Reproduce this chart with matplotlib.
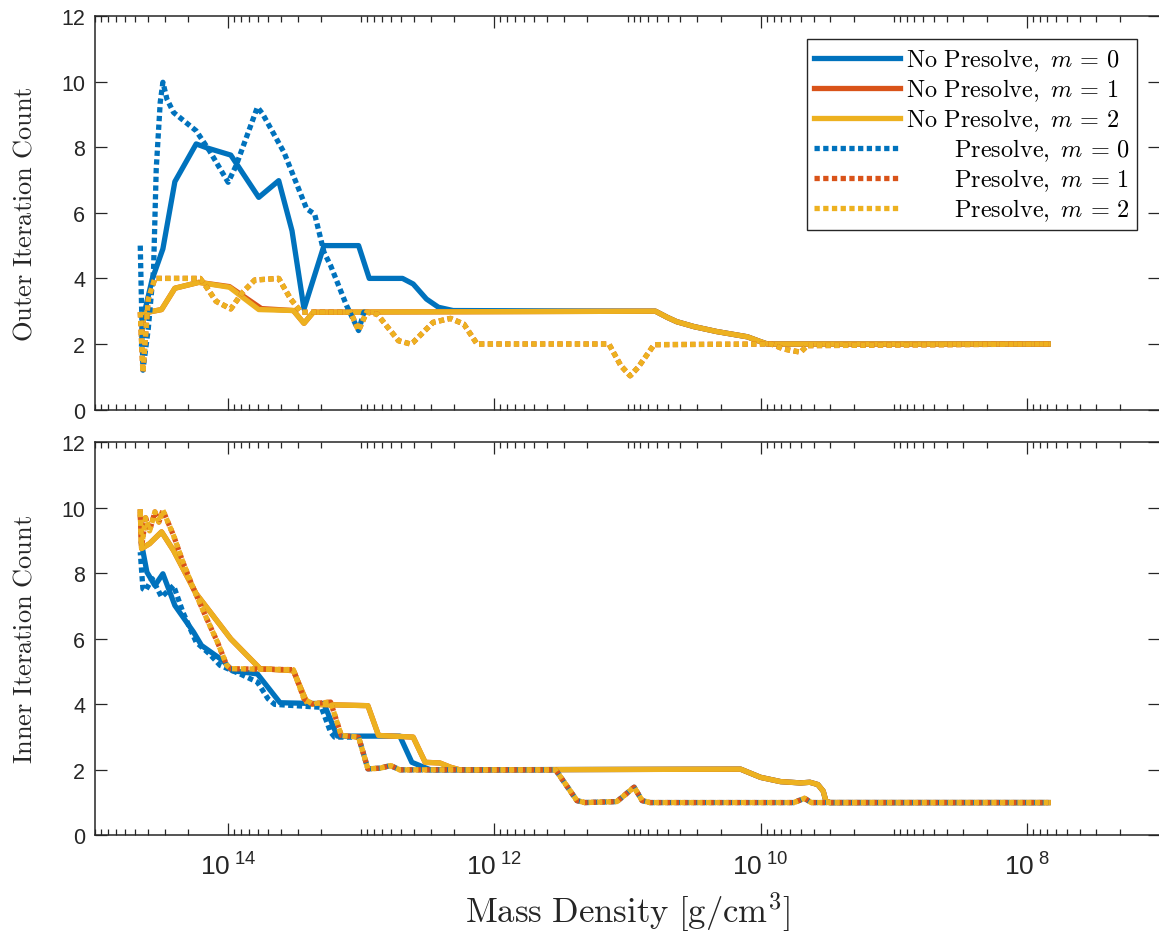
import numpy as np
import matplotlib
matplotlib.use("Agg")
import matplotlib.pyplot as plt
from matplotlib.ticker import FixedLocator, FuncFormatter, NullFormatter

plt.rcParams['font.family'] = 'Liberation Sans'
plt.rcParams['mathtext.fontset'] = 'custom'
plt.rcParams['mathtext.rm'] = 'Liberation Sans'
plt.rcParams['mathtext.it'] = 'Liberation Sans:italic'
plt.rcParams['mathtext.bf'] = 'Liberation Sans:bold'

# colours (matlab default order)
c_blue = '#0072BD'
c_orange = '#D95319'
c_yellow = '#EDB120'
c_ax = '#262626'

# ---- data: log10(mass density) and iteration counts ----
# outer iterations
outer_np0_logrho = [14.65, 14.64, 14.57, 14.49, 14.40, 14.24, 14.16, 13.98, 13.77, 13.62,
                    13.52, 13.43, 13.28, 13.02, 12.94, 12.69, 12.61, 12.51, 12.42, 12.31,
                    10.79, 10.70, 10.63, 10.50, 10.33, 10.10, 10.00, 9.95, 7.84]
outer_np0 = [2.0, 2.76, 3.98, 4.90, 6.95, 8.10, 7.98, 7.76, 6.47, 6.98,
             5.45, 3.07, 5.0, 5.0, 4.0, 4.0, 3.83, 3.37, 3.12, 3.02,
             3.0, 2.81, 2.68, 2.53, 2.38, 2.22, 2.07, 2.0, 2.0]

outer_np1_logrho = [14.65, 14.63, 14.60, 14.50, 14.40, 14.22, 13.99, 13.75, 13.51, 13.43,
                    13.36, 10.79, 10.70, 10.63, 10.50, 10.33, 10.10, 10.00, 9.95, 7.84]
outer_np1 = [2.3, 2.95, 2.97, 3.05, 3.70, 3.88, 3.75, 3.08, 3.02, 2.63,
             2.97, 3.0, 2.81, 2.68, 2.53, 2.38, 2.22, 2.07, 2.0, 2.0]

outer_np2_logrho = [14.65, 14.63, 14.60, 14.50, 14.40, 14.22, 13.99, 13.77, 13.51, 13.43,
                    13.36, 10.79, 10.70, 10.63, 10.50, 10.33, 10.10, 10.00, 9.95, 7.84]
outer_np2 = [2.3, 2.95, 2.97, 3.05, 3.70, 3.88, 3.73, 3.05, 3.02, 2.63,
             2.97, 3.0, 2.81, 2.68, 2.53, 2.38, 2.22, 2.07, 2.0, 2.0]

# presolve m=0 joins the m=1/m=2 curves (and stays hidden under them) after 1e13
outer_p0_logrho = [14.66, 14.64, 14.60, 14.56, 14.54, 14.51, 14.49, 14.46, 14.41, 14.24,
                   14.14, 14.00, 13.94, 13.78, 13.74, 13.58, 13.41, 13.35, 13.28, 13.23,
                   13.11, 13.02, 12.98, 12.96]
outer_p0 = [5.0, 1.2, 2.46, 4.29, 7.34, 9.37, 9.98, 9.47, 9.06, 8.5,
            7.89, 6.93, 7.44, 9.22, 9.01, 7.84, 6.12, 5.96, 4.80, 4.39,
            3.17, 2.41, 2.97, 2.97]

outer_p2_logrho = [14.66, 14.64, 14.60, 14.55, 14.21, 14.17, 14.09, 13.98, 13.89, 13.80,
                   13.62, 13.53, 13.45, 13.08, 13.02, 12.96, 12.88, 12.72, 12.63, 12.61,
                   12.46, 12.33, 12.23, 12.13, 11.14, 11.05, 10.98, 10.92, 10.80, 9.92,
                   9.83, 9.70, 9.65, 7.84]
outer_p2 = [2.97, 1.14, 3.37, 4.0, 4.0, 3.78, 3.3, 3.07, 3.58, 3.95,
            4.0, 3.37, 2.97, 2.97, 2.41, 2.97, 2.91, 2.1, 2.0, 2.05,
            2.66, 2.78, 2.61, 2.0, 2.0, 1.34, 1.03, 1.29, 1.98, 2.0,
            1.85, 1.75, 1.95, 2.0]
outer_p1_logrho = outer_p2_logrho
outer_p1 = outer_p2

# inner iterations
inner_np0_logrho = [14.65, 14.61, 14.55, 14.49, 14.40, 14.26, 14.20, 14.04, 13.97, 13.78,
                    13.61, 13.28, 13.18, 12.71, 12.62, 12.56, 12.48, 10.15, 10.00, 9.85,
                    9.70, 9.63, 9.57, 9.53, 9.51, 9.48, 7.84]
inner_np0 = [8.9, 8.04, 7.63, 7.99, 7.02, 6.21, 5.80, 5.34, 5.03, 4.93,
             4.05, 4.02, 3.03, 3.03, 2.23, 2.13, 2.0, 2.02, 1.77, 1.64,
             1.60, 1.62, 1.55, 1.35, 1.05, 1.0, 1.0]

inner_np2_logrho = [14.66, 14.65, 14.59, 14.50, 14.41, 14.24, 13.98, 13.76, 13.51, 13.41,
                    13.36, 12.95, 12.87, 12.61, 12.52, 12.41, 12.33, 12.26, 10.15, 10.00,
                    9.85, 9.70, 9.63, 9.57, 9.53, 9.51, 9.48, 7.84]
inner_np2 = [9.88, 8.76, 8.91, 9.27, 8.70, 7.38, 6.0, 5.09, 5.03, 4.07,
             4.0, 3.96, 3.05, 3.0, 2.23, 2.21, 2.08, 2.0, 2.02, 1.77,
             1.64, 1.60, 1.62, 1.55, 1.35, 1.05, 1.0, 1.0]
inner_np1_logrho = inner_np2_logrho
inner_np1 = inner_np2

inner_p0_logrho = [14.66, 14.64, 14.62, 14.57, 14.50, 14.41, 14.34, 14.24, 14.14, 14.06,
                   13.91, 13.78, 13.70, 13.65, 13.30, 13.23, 13.20, 13.02, 12.95, 12.86,
                   12.78, 12.71, 11.54, 11.38, 11.32, 11.08, 10.95, 10.89, 10.83, 9.75,
                   9.67, 9.62, 7.84]
inner_p0 = [8.65, 7.53, 7.48, 7.84, 7.28, 7.63, 6.82, 5.90, 5.54, 5.19,
            4.93, 4.68, 4.17, 4.0, 3.91, 3.15, 3.0, 3.0, 2.03, 2.05,
            2.13, 2.0, 2.0, 1.06, 1.0, 1.03, 1.47, 1.06, 1.0, 1.0,
            1.13, 1.0, 1.0]

inner_p2_logrho = [14.66, 14.65, 14.62, 14.59, 14.55, 14.52, 14.49, 14.41, 14.34, 14.26,
                   14.16, 14.08, 14.01, 13.98, 13.51, 13.43, 13.37, 13.23, 13.15, 13.02,
                   12.95, 12.86, 12.78, 12.71, 11.54, 11.38, 11.32, 11.08, 10.95, 10.89,
                   10.83, 9.75, 9.67, 9.62, 7.84]
inner_p2 = [9.88, 8.8, 9.7, 9.3, 9.88, 9.57, 9.93, 9.16, 8.35, 7.53,
            6.61, 5.90, 5.19, 5.09, 5.06, 4.17, 4.02, 4.07, 3.05, 3.0,
            2.03, 2.05, 2.13, 2.0, 2.0, 1.06, 1.0, 1.03, 1.47, 1.06,
            1.0, 1.0, 1.13, 1.0, 1.0]
inner_p1_logrho = inner_p2_logrho
inner_p1 = inner_p2

labels = [r'$\mathrm{No\ Presolve,}\ m\,=\,0$',
          r'$\mathrm{No\ Presolve,}\ m\,=\,1$',
          r'$\mathrm{No\ Presolve,}\ m\,=\,2$',
          r'$\hspace{2.25}\mathrm{Presolve,}\ m\,=\,0$',
          r'$\hspace{2.25}\mathrm{Presolve,}\ m\,=\,1$',
          r'$\hspace{2.25}\mathrm{Presolve,}\ m\,=\,2$']

colors = [c_blue, c_orange, c_yellow, c_blue, c_orange, c_yellow]
lw = 3.8
dot = (1, 0.65)

fig = plt.figure(figsize=(11.59, 9.37), dpi=100)
ax1 = fig.add_axes([95/1159, 1-410.6/937, 1065/1159, 393.6/937])
ax2 = fig.add_axes([95/1159, 1-836.3/937, 1065/1159, 392.8/937])

top_series = [(outer_np0_logrho, outer_np0), (outer_np1_logrho, outer_np1),
              (outer_np2_logrho, outer_np2), (outer_p0_logrho, outer_p0),
              (outer_p1_logrho, outer_p1), (outer_p2_logrho, outer_p2)]
bot_series = [(inner_np0_logrho, inner_np0), (inner_np1_logrho, inner_np1),
              (inner_np2_logrho, inner_np2), (inner_p0_logrho, inner_p0),
              (inner_p1_logrho, inner_p1), (inner_p2_logrho, inner_p2)]

top_offsets = [0, 0, 0, 0.0, 0.0, 0.0]
bot_offsets = [0, 0, 0, 0.4, 1.15, 0.0]

for ax, series, offs in [(ax1, top_series, top_offsets), (ax2, bot_series, bot_offsets)]:
    for i, (lr, y) in enumerate(series):
        x = 10.0 ** np.array(lr)
        if i < 3:
            ax.plot(x, y, color=colors[i], lw=lw, solid_joinstyle='round',
                    label=labels[i])
        else:
            ax.plot(x, y, color=colors[i], lw=lw, linestyle=(offs[i], dot),
                    dash_capstyle='butt', label=labels[i])

    ax.set_xscale('log')
    ax.set_xlim(1e15, 1e7)
    ax.set_ylim(0, 12)
    ax.set_yticks(range(0, 13, 2))
    ax.xaxis.set_major_locator(FixedLocator([1e8, 1e10, 1e12, 1e14]))
    minors = [m * 10.0 ** e for e in range(6, 16) for m in range(1, 10)
              if not (m == 1 and e % 2 == 0)]
    ax.xaxis.set_minor_locator(FixedLocator(minors))
    ax.xaxis.set_minor_formatter(NullFormatter())
    ax.tick_params(which='both', direction='in', top=True, right=True,
                   color=c_ax, labelcolor=c_ax)
    ax.tick_params(which='major', length=8.5, width=0.9)
    ax.tick_params(which='minor', length=4.3, width=0.9)
    ax.tick_params(axis='y', labelsize=15.5, pad=7)
    ax.tick_params(axis='x', labelsize=19, pad=12.5)
    for s in ax.spines.values():
        s.set_color(c_ax)
        s.set_linewidth(1.1)

ax1.xaxis.set_major_formatter(NullFormatter())
ax2.xaxis.set_major_formatter(FuncFormatter(
    lambda v, p: r'$10^{\ %d}$' % int(round(np.log10(v)))))

ax1.set_ylabel(r'$\mathrm{Outer\ Iteration\ Count}$', fontsize=19,
               math_fontfamily='cm', color=c_ax, labelpad=18)
ax2.set_ylabel(r'$\mathrm{Inner\ Iteration\ Count}$', fontsize=19,
               math_fontfamily='cm', color=c_ax, labelpad=18)
ax2.set_xlabel(r'$\mathrm{Mass\ Density}\ [\mathrm{g/cm}^3]$', fontsize=25,
               math_fontfamily='cm', color=c_ax, labelpad=7)

leg = ax1.legend(loc='upper right', bbox_to_anchor=(1137/1159, 1-40/937),
                 bbox_transform=fig.transFigure, borderaxespad=0,
                 prop={'size': 17.5, 'math_fontfamily': 'cm'},
                 handlelength=3.5, handletextpad=0.25, labelspacing=0.14,
                 borderpad=0.3, fancybox=False, framealpha=1, edgecolor=c_ax)
leg.get_frame().set_linewidth(1.0)

fig.savefig('out.png', dpi=100)
